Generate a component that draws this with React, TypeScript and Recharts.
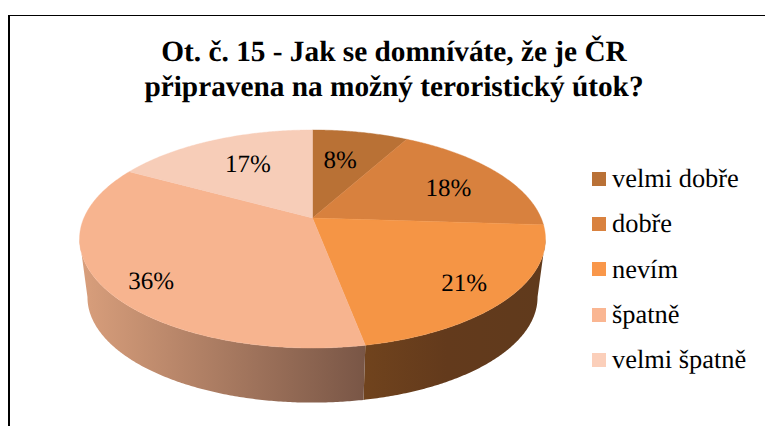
import { PieChart, Pie, Legend } from 'recharts'

const categories = ['velmi dobře', 'dobře', 'nevím', 'špatně', 'velmi špatně']
const shares = [8, 18, 21, 36, 17]
const topColors = ['#b97135', '#d8813e', '#f59545', '#f7b48f', '#f7cdb8']
const legendColors = ['#b97136', '#d9823f', '#f9974a', '#fab692', '#fbcfba']
const wallFills = ['#7a4a22', '#8a5228', 'url(#wallBrown)', 'url(#wallPeach)', '#a08070']
const titleLines = ['Ot. č. 15 - Jak se domníváte, že je ČR', 'připravena na možný teroristický útok?']

// how far out each percent label sits, as a share of the radius, plus a small hand nudge in px
const labelRadii = [0.6, 0.73, 0.8, 0.79, 0.61]
const labelNudgeX = [-3, -1, -1, -1, 0]
const labelNudgeY = [-3, 5, 4, 10, -3]

const rows = categories.map((name, i) => ({
  name,
  value: shares[i],
  fill: topColors[i],
  wallFill: wallFills[i],
  labelRadius: labelRadii[i],
  nudgeX: labelNudgeX[i],
  nudgeY: labelNudgeY[i],
}))

const W = 765
const H = 426
const APEX_X = 312.5
const APEX_Y = 218

// Excel style tilted pie: the disc goes through a perspective map, so the apex sits above the ellipse centre
const TILT = 0.1926
const SPREAD_X = 228.6
const SPREAD_Y = 105

// lower rim of the wall
const WALL_DROP = 59
const WALL_SCALE = 0.966

// part of the rim that faces the viewer, degrees clockwise from 12 o'clock
const FRONT_FROM = 101
const FRONT_TO = 259

const SERIF = "'Liberation Serif', 'Times New Roman', serif"

function project(clockDeg: number, r = 1, scale = 1, drop = 0): [number, number] {
  const t = (clockDeg * Math.PI) / 180
  const u = r * Math.sin(t)
  const v = -r * Math.cos(t)
  const w = 1 - TILT * v
  return [APEX_X + (scale * SPREAD_X * u) / w, APEX_Y + drop + (scale * SPREAD_Y * v) / w]
}

function rim(from: number, to: number, scale = 1, drop = 0) {
  const steps = Math.max(2, Math.ceil(Math.abs(to - from) * 2))
  const pts: [number, number][] = []
  for (let i = 0; i <= steps; i++) {
    pts.push(project(from + ((to - from) * i) / steps, 1, scale, drop))
  }
  return pts
}

function toPath(pts: [number, number][]) {
  return 'M' + pts.map((p) => `${p[0].toFixed(2)},${p[1].toFixed(2)}`).join('L') + 'Z'
}

function TopSlice(props: any) {
  const from = 90 - props.startAngle
  const to = 90 - props.endAngle
  return <path d={toPath([[APEX_X, APEX_Y], ...rim(from, to)])} fill={props.fill} stroke={props.fill} strokeWidth={0.4} />
}

function WallSlice(props: any) {
  const from = Math.max(90 - props.startAngle, FRONT_FROM)
  const to = Math.min(90 - props.endAngle, FRONT_TO)
  if (to <= from) return <g />
  const d = toPath([...rim(from, to), ...rim(from, to, WALL_SCALE, WALL_DROP).reverse()])
  return <path d={d} fill={props.wallFill ?? props.payload?.wallFill} />
}

function PercentLabel(props: any) {
  const row = props.payload ?? props
  const [x, y] = project(90 - props.midAngle, props.labelRadius ?? row.labelRadius)
  return (
    <text
      x={x + (props.nudgeX ?? row.nudgeX)}
      y={y + (props.nudgeY ?? row.nudgeY)}
      textAnchor="middle"
      dominantBaseline="central"
      fontSize={25}
      fontFamily={SERIF}
      textRendering="geometricPrecision"
      fill="#000"
    >
      {`${props.value}%`}
    </text>
  )
}

function LegendList() {
  return (
    <div style={{ fontFamily: SERIF, fontSize: 26.4, color: '#000', textRendering: 'geometricPrecision' }}>
      {categories.map((name, i) => (
        <div key={name} style={{ display: 'flex', alignItems: 'center', height: 45.3, whiteSpace: 'nowrap' }}>
          <span style={{ width: 14, height: 14, background: legendColors[i], marginRight: 6, flexShrink: 0 }} />
          <span>{name}</span>
        </div>
      ))}
    </div>
  )
}

export default function App() {
  return (
    <div style={{ position: 'absolute', left: 0, top: 0, width: W, height: H, overflow: 'hidden', background: '#fff' }}>
      <div style={{ position: 'absolute', left: 8, top: 15, width: W, height: H, borderTop: '1.5px solid #000', borderLeft: '2px solid #000' }} />
      <div
        style={{
          position: 'absolute',
          left: 0,
          top: 35,
          width: 788,
          textAlign: 'center',
          fontFamily: SERIF,
          fontWeight: 700,
          fontSize: 29.3,
          lineHeight: '35px',
          color: '#000',
          textRendering: 'geometricPrecision',
        }}
      >
        {titleLines.map((line) => (
          <div key={line}>{line}</div>
        ))}
      </div>
      <PieChart width={W} height={H} style={{ position: 'absolute', left: 0, top: 0 }} margin={{ top: 0, right: 0, bottom: 0, left: 0 }}>
        <defs>
          <linearGradient id="wallPeach" gradientUnits="userSpaceOnUse" x1="80" y1="0" x2="365" y2="0">
            <stop offset="0%" stopColor="#d99f7c" />
            <stop offset="100%" stopColor="#795646" />
          </linearGradient>
          <linearGradient id="wallBrown" gradientUnits="userSpaceOnUse" x1="365" y1="0" x2="546" y2="0">
            <stop offset="0%" stopColor="#70431d" />
            <stop offset="45%" stopColor="#633a1c" />
            <stop offset="100%" stopColor="#603a1c" />
          </linearGradient>
        </defs>
        <Pie
          data={rows}
          dataKey="value"
          nameKey="name"
          cx={APEX_X}
          cy={APEX_Y}
          outerRadius={100}
          startAngle={90}
          endAngle={-270}
          legendType="none"
          shape={WallSlice}
          stroke="none"
          isAnimationActive={false}
        />
        <Pie
          data={rows}
          dataKey="value"
          nameKey="name"
          cx={APEX_X}
          cy={APEX_Y}
          outerRadius={100}
          startAngle={90}
          endAngle={-270}
          shape={TopSlice}
          stroke="none"
          label={PercentLabel}
          labelLine={false}
          isAnimationActive={false}
        />
        <Legend
          content={<LegendList />}
          layout="vertical"
          wrapperStyle={{ position: 'absolute', left: 592, top: 156, width: 170, bottom: 'auto', right: 'auto' }}
        />
      </PieChart>
    </div>
  )
}
